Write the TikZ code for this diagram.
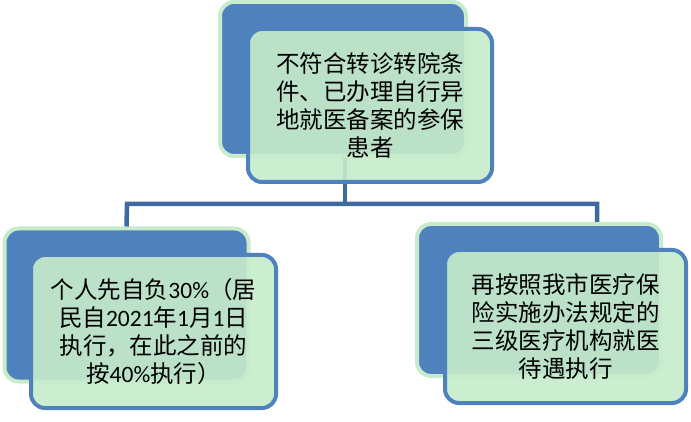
\documentclass[tikz,border=0pt]{standalone}
\usepackage{fontspec}
\setmainfont{Carlito}
\newfontfamily\cjk{Noto Sans CJK SC}
\definecolor{boxblue}{RGB}{79,129,189}
\definecolor{connblue}{RGB}{62,106,160}
\definecolor{lightgreen}{RGB}{199,236,203}
\definecolor{bordergreen}{RGB}{200,236,203}
\tikzset{
  backbox/.style={draw=bordergreen, line width=4pt, fill=boxblue, rounded corners=14pt, inner sep=0pt},
  frontbox/.style={draw=boxblue, line width=4pt, fill=lightgreen, fill opacity=0.9, text opacity=1, rounded corners=14pt, inner sep=0pt, align=center, font=\fontsize{23.5}{28}\selectfont\cjk, text=black},
  conn/.style={draw=connblue, line width=4.5pt}
}
\begin{document}
\begin{tikzpicture}[x=1pt,y=-1pt]
\useasboundingbox (0,0) rectangle (691,422);
% back boxes
\node[backbox, minimum width=246pt, minimum height=154pt] (tb) at (343,79) {};
\node[backbox, minimum width=244pt, minimum height=153pt] (lb) at (126.5,305) {};
\node[backbox, minimum width=244pt, minimum height=152pt] (rb) at (539,300) {};
% connectors
\coordinate (jl) at (127,204);
\coordinate (jr) at (597,204);
\draw[conn] ([xshift=2pt]tb.south) -- ([xshift=2pt]tb.south |- jl);
\draw[conn] (lb.north) -- (jl) -- (jr) -- (rb.north -| jr);
% front boxes
\node[frontbox, minimum width=244pt, minimum height=153pt] (tf) at (370,105.5)
  {不符合转诊转院条\\件、已办理自行异\\地就医备案的参保\\患者};
\node[frontbox, minimum width=245pt, minimum height=153pt] (lf) at (153.5,331.5)
  {个人先自负{\rmfamily 30\%}（居\\民自{\rmfamily 2021}年{\rmfamily 1}月{\rmfamily 1}日\\执行，在此之前的\\按{\rmfamily 40\%}执行）};
\node[frontbox, minimum width=241pt, minimum height=153pt] (rf) at (565.5,326.5)
  {再按照我市医疗保\\险实施办法规定的\\三级医疗机构就医\\待遇执行};
\end{tikzpicture}
\end{document}
